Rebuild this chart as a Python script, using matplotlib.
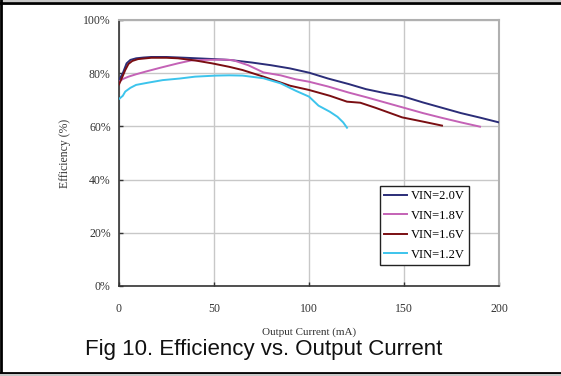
import matplotlib
matplotlib.use("Agg")
import matplotlib.pyplot as plt
from matplotlib.lines import Line2D
from matplotlib.ticker import FuncFormatter

# ---- data ----
x_20 = [0, 2, 4, 6, 9, 13, 17, 25, 35, 50, 58, 70, 80, 90, 100, 110, 121, 130, 140, 149, 160, 170, 180, 190, 200]
eff_20 = [77.4, 80, 83.7, 85, 85.6, 85.9, 86.1, 86.1, 85.8, 85.3, 85.0, 84, 83, 81.8, 80.2, 78, 75.9, 74, 72.5, 71.4, 69, 67, 65, 63.3, 61.5]

x_18 = [0, 2, 5, 9, 14, 22, 31, 38, 45, 55, 60, 68, 76, 85, 93, 100, 110, 121, 130, 140, 149, 160, 170, 180, 190]
eff_18 = [76.8, 77.8, 78.7, 79.6, 80.6, 82.1, 83.7, 84.8, 85, 85.1, 84.9, 83, 80.3, 79.2, 77.7, 76.8, 75, 72.7, 71, 69, 67.2, 65, 63.2, 61.5, 59.9]

x_16 = [0, 2, 3.3, 5, 7, 10, 17, 25, 31, 40, 49, 58, 65, 76, 90, 100, 111, 120, 127, 135, 149, 160, 170]
eff_16 = [75.8, 79, 81.2, 83.5, 84.6, 85.3, 85.8, 85.8, 85.6, 84.8, 83.7, 82.4, 81.2, 78.7, 75.3, 73.7, 71.5, 69.3, 68.9, 67, 63.4, 61.8, 60.3]

x_12 = [0, 2, 3.3, 6, 9, 15, 23, 32, 40, 51, 58, 65, 76, 85, 93, 100, 105, 111, 115, 118, 120]
eff_12 = [70.3, 71.5, 73.1, 74.5, 75.6, 76.4, 77.4, 78, 78.7, 79.1, 79.2, 79.1, 78.1, 76.2, 73.4, 71.2, 67.8, 65.5, 63.6, 61.5, 59.5]

labels = ["VIN=2.0V", "VIN=1.8V", "VIN=1.6V", "VIN=1.2V"]
colors = ["#2B2D78", "#C462B6", "#7A0E12", "#3CC4EC"]
x_ticks = [0, 50, 100, 150, 200]
y_ticks = [0, 20, 40, 60, 80, 100]

serif = ["Liberation Serif", "DejaVu Serif"]

fig = plt.figure(figsize=(5.61, 3.76), dpi=100)
ax = fig.add_axes([119 / 561, 90 / 376, 380 / 561, 266 / 376])

series = [(x_20, eff_20), (x_18, eff_18), (x_16, eff_16), (x_12, eff_12)]
for (xs, ys), lab, col in zip(series, labels, colors):
    ax.plot(xs, ys, color=col, lw=1.4, label=lab, zorder=3)

ax.set_xlim(0, 200)
ax.set_ylim(0, 100)
ax.set_xticks(x_ticks)
ax.set_yticks(y_ticks)
ax.yaxis.set_major_formatter(FuncFormatter(lambda v, p: f"{int(v)}%"))
ax.grid(True, color="#C8C8C8", lw=1.0, zorder=0)
ax.tick_params(direction="in", length=3, width=1, colors="#333333",
               labelsize=8.5, pad=6)
for lab in ax.get_xticklabels() + ax.get_yticklabels():
    lab.set_fontfamily(serif)
    lab.set_color("#333333")
ax.tick_params(axis="x", pad=12)

for s in ["left", "bottom"]:
    ax.spines[s].set_color("#333333")
    ax.spines[s].set_linewidth(1.2)
for s in ["right", "top"]:
    ax.spines[s].set_color("#B0B0B0")
    ax.spines[s].set_linewidth(1.5)

ax.set_xlabel("Output Current (mA)", fontfamily=serif, fontsize=8, color="#333333", labelpad=9)
ax.set_ylabel("Efficiency (%)", fontfamily=serif, fontsize=8.5, color="#333333", labelpad=9)

leg = ax.legend(loc="upper left", bbox_to_anchor=(0.687, 0.376), frameon=True,
                fancybox=False, edgecolor="#222222", framealpha=1,
                prop={"family": serif, "size": 9}, handlelength=1.8,
                labelspacing=0.6, borderpad=0.35, handletextpad=0.3,
                borderaxespad=0)
leg.get_frame().set_linewidth(1.0)

fig.text(264 / 561, 1 - 349 / 376, "Fig 10. Efficiency vs. Output Current",
         ha="center", va="center", fontfamily=["Liberation Sans", "DejaVu Sans"],
         fontsize=16, color="#111111")

# outer border
fig.add_artist(Line2D([0, 1], [1 - 2.5 / 376] * 2, transform=fig.transFigure, color="black", lw=2))
fig.add_artist(Line2D([0, 1], [1 - 0.5 / 376] * 2, transform=fig.transFigure, color="#C8C8C8", lw=1.5))
fig.add_artist(Line2D([1 / 561] * 2, [0, 1], transform=fig.transFigure, color="black", lw=2))
fig.add_artist(Line2D([0, 1], [3.5 / 376] * 2, transform=fig.transFigure, color="black", lw=2))
fig.add_artist(Line2D([0, 1], [1 / 376] * 2, transform=fig.transFigure, color="#C8C8C8", lw=1.5))

fig.savefig("out.png", dpi=100)
